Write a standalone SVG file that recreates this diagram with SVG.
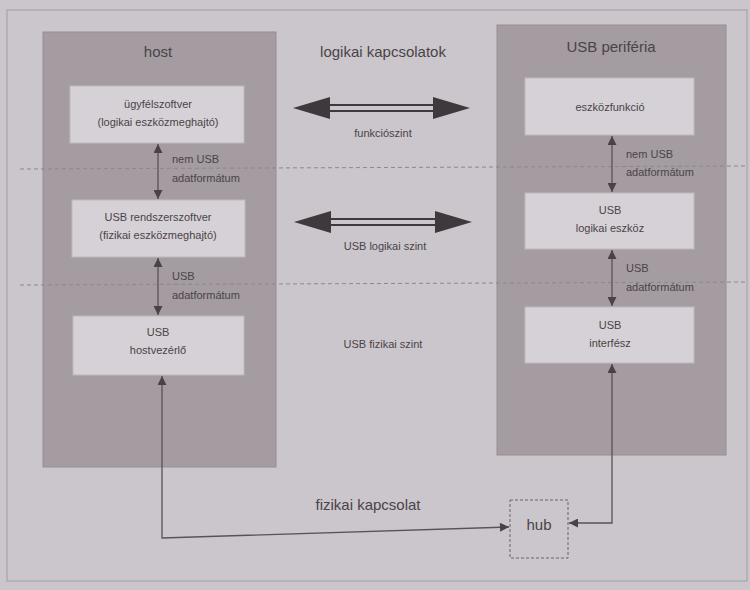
<svg xmlns="http://www.w3.org/2000/svg" width="750" height="590" viewBox="0 0 750 590">
<defs>
<marker id="ahs" viewBox="0 0 10 10" refX="10" refY="5" markerWidth="12" markerHeight="9" markerUnits="userSpaceOnUse" orient="auto-start-reverse"><path d="M0,0 L10,5 L0,10 z" fill="#4a4247"/></marker>
</defs>
<style>
.bg{fill:#cbc6cc}
.panel{fill:#a49ca0;stroke:#958e93;stroke-width:1}
.box{fill:#d6d1d6;stroke:#bdb7bc;stroke-width:1}
text{font-family:"Liberation Sans",Arial,sans-serif;fill:#4a4348;text-anchor:middle}
.t{font-size:15px}
.s{font-size:11px}
.l{text-anchor:start}
.dash{stroke:#8e878c;stroke-width:1;stroke-dasharray:4 3;fill:none}
.con{stroke:#5a5257;stroke-width:1.3;fill:none}
.head{fill:#3f383d}
.shaft{stroke:#3f383d;stroke-width:2;fill:none}
</style>
<rect class="bg" x="0" y="0" width="750" height="590"/>
<rect x="7" y="10" width="740" height="571" fill="none" stroke="#aaa4aa" stroke-width="1.2"/>
<g id="host">
<rect class="panel" x="43" y="32" width="233" height="435"/>
<text class="t" x="158" y="57">host</text>
</g>
<g id="periferia">
<rect class="panel" x="497" y="25" width="229" height="430"/>
<text class="t" x="611" y="52">USB periféria</text>
</g>
<g id="guides">
<path class="dash" d="M20,169 L745,166"/>
<path class="dash" d="M20,285 L745,282"/>
</g>
<g id="ugyfelszoftver">
<rect class="box" x="70" y="86" width="174" height="57"/>
<text class="s" x="158" y="108">ügyfélszoftver</text>
<text class="s" x="158" y="126">(logikai eszközmeghajtó)</text>
</g>
<g id="rendszerszoftver">
<rect class="box" x="72" y="200" width="173" height="57"/>
<text class="s" x="158" y="221">USB rendszerszoftver</text>
<text class="s" x="158" y="239">(fizikai eszközmeghajtó)</text>
</g>
<g id="hostvezerlo">
<rect class="box" x="73" y="316" width="171" height="59"/>
<text class="s" x="158" y="336">USB</text>
<text class="s" x="158" y="354">hostvezérlő</text>
</g>
<g id="eszkozfunkcio">
<rect class="box" x="525" y="78" width="169" height="57"/>
<text class="s" x="610" y="111">eszközfunkció</text>
</g>
<g id="logikaieszkoz">
<rect class="box" x="525" y="193" width="169" height="56"/>
<text class="s" x="610" y="214">USB</text>
<text class="s" x="610" y="232">logikai eszköz</text>
</g>
<g id="interfesz">
<rect class="box" x="525" y="307" width="169" height="56"/>
<text class="s" x="610" y="329">USB</text>
<text class="s" x="610" y="347">interfész</text>
</g>
<g id="hub">
<rect x="510" y="500" width="58" height="58" fill="#cbc6cc" stroke="#6a6267" stroke-width="1" stroke-dasharray="3 2"/>
<text class="t" x="539" y="530">hub</text>
</g>
<g id="labels">
<text class="t" x="383" y="57">logikai kapcsolatok</text>
<text class="s" x="383" y="137">funkciószint</text>
<text class="s" x="385" y="250">USB logikai szint</text>
<text class="s" x="383" y="348">USB fizikai szint</text>
<text class="t" x="368" y="510">fizikai kapcsolat</text>
<text class="s l" x="172" y="163">nem USB</text>
<text class="s l" x="172" y="182">adatformátum</text>
<text class="s l" x="172" y="280">USB</text>
<text class="s l" x="172" y="299">adatformátum</text>
<text class="s l" x="626" y="158">nem USB</text>
<text class="s l" x="626" y="176">adatformátum</text>
<text class="s l" x="626" y="272">USB</text>
<text class="s l" x="626" y="291">adatformátum</text>
</g>
<g id="connectors">
<line class="con" x1="158" y1="144" x2="158" y2="199" marker-start="url(#ahs)" marker-end="url(#ahs)"/>
<line class="con" x1="158" y1="258" x2="158" y2="315" marker-start="url(#ahs)" marker-end="url(#ahs)"/>
<line class="con" x1="612" y1="136" x2="612" y2="192" marker-start="url(#ahs)" marker-end="url(#ahs)"/>
<line class="con" x1="612" y1="250" x2="612" y2="306" marker-start="url(#ahs)" marker-end="url(#ahs)"/>
<polyline class="con" points="509,527 162,538 162,376" marker-start="url(#ahs)" marker-end="url(#ahs)"/>
<polyline class="con" points="569,523 612,523 612,364" marker-start="url(#ahs)" marker-end="url(#ahs)"/>
<polygon class="head" points="293,108 330,97 330,119"/>
<polygon class="head" points="470,108 433,97 433,119"/>
<line class="shaft" x1="328" y1="105" x2="435" y2="105"/>
<line class="shaft" x1="328" y1="111" x2="435" y2="111"/>
<polygon class="head" points="294,222 331,211 331,233"/>
<polygon class="head" points="472,222 435,211 435,233"/>
<line class="shaft" x1="329" y1="219" x2="437" y2="219"/>
<line class="shaft" x1="329" y1="225" x2="437" y2="225"/>
</g>
</svg>
